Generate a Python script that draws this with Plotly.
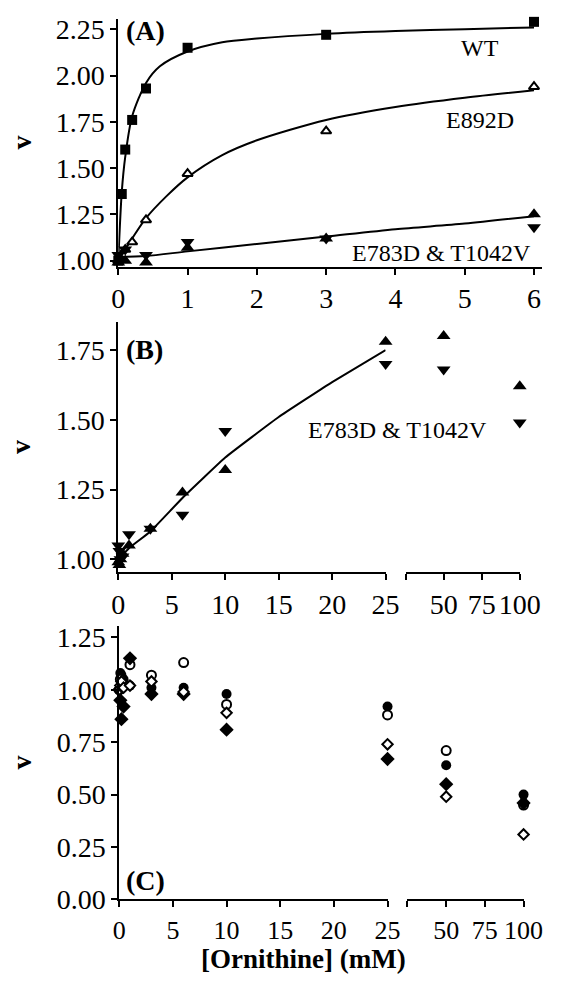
import plotly.graph_objects as go

W, H = 575, 984
FONT = "'Liberation Serif', 'Times New Roman', Times, serif"

# ---------------- Panel A data ----------------
wt_x = [0, 0.05, 0.1, 0.2, 0.4, 1, 3, 6]
wt_y = [1.00, 1.36, 1.60, 1.76, 1.93, 2.15, 2.22, 2.29]
wt_fit_x = [0, 0.05, 0.1, 0.2, 0.4, 0.6, 1, 1.5, 2, 3, 4, 5, 6]
wt_fit_y = [1.00, 1.37, 1.56, 1.78, 1.96, 2.05, 2.13, 2.18, 2.20, 2.225, 2.24, 2.25, 2.26]

e892d_x = [0, 0.1, 0.2, 0.4, 1, 3, 6]
e892d_y = [1.00, 1.06, 1.10, 1.22, 1.47, 1.70, 1.94]
e892d_fit_x = [0, 0.2, 0.4, 0.7, 1, 1.5, 2, 3, 4, 5, 6]
e892d_fit_y = [1.00, 1.12, 1.23, 1.35, 1.45, 1.57, 1.65, 1.76, 1.83, 1.88, 1.92]

mutA_x = [0, 0.1, 0.4, 1, 3, 6]
e783d_A_y = [0.99, 1.00, 0.99, 1.07, 1.12, 1.25]   # filled up-triangles
t1042v_A_y = [1.03, 1.06, 1.03, 1.10, 1.12, 1.18]  # filled down-triangles
mutA_fit_x = [0, 0.4, 1, 2, 3, 4, 5, 6]
mutA_fit_y = [1.02, 1.025, 1.05, 1.09, 1.13, 1.17, 1.20, 1.24]

# ---------------- Panel B data ----------------
b_x = [0, 0.1, 0.2, 0.4, 1, 3, 6, 10, 25, 50, 100]
e783d_B_y = [0.99, 0.98, 1.00, 1.02, 1.05, 1.11, 1.24, 1.32, 1.78, 1.80, 1.62]
t1042v_B_y = [1.05, 1.03, 1.00, 1.01, 1.09, 1.11, 1.16, 1.46, 1.70, 1.68, 1.49]
b_fit_x = [0, 1, 3, 6, 10, 15, 20, 25]
b_fit_y = [1.00, 1.04, 1.10, 1.22, 1.365, 1.51, 1.635, 1.75]

# ---------------- Panel C data ----------------
c_x = [0, 0.1, 0.2, 0.4, 1, 3, 6, 10, 25, 50, 100]
c_filled_circle = [1.00, 1.08, 1.07, 1.05, 1.02, 1.01, 1.01, 0.98, 0.92, 0.64, 0.50]
c_open_circle = [1.00, 1.05, 1.03, 1.02, 1.12, 1.07, 1.13, 0.93, 0.88, 0.71, 0.45]
c_filled_diamond = [1.00, 0.95, 0.86, 0.92, 1.15, 0.98, 0.98, 0.81, 0.67, 0.55, 0.46]
c_open_diamond = [1.00, 1.02, 1.04, 1.01, 1.02, 1.04, 0.99, 0.89, 0.74, 0.49, 0.31]

BREAK = 25


def px(x):
    return x / W


def py(y):
    return 1 - y / H


def split(xs, ys):
    lo = [(a, b) for a, b in zip(xs, ys) if a <= BREAK]
    hi = [(a, b) for a, b in zip(xs, ys) if a > BREAK]
    return ([a for a, _ in lo], [b for _, b in lo]), ([a for a, _ in hi], [b for _, b in hi])


fig = go.Figure()


def mk(x, y, xa, ya, symbol, size=10, open_=False, lw=2):
    fig.add_trace(go.Scatter(
        x=x, y=y, xaxis=xa, yaxis=ya, mode="markers", cliponaxis=False,
        marker=dict(symbol=symbol, size=size,
                    color="white" if open_ else "black",
                    line=dict(color="black", width=lw if open_ else 0)),
        showlegend=False, hoverinfo="skip"))


def ln(x, y, xa, ya, smooth=0.8):
    fig.add_trace(go.Scatter(
        x=x, y=y, xaxis=xa, yaxis=ya, mode="lines", cliponaxis=False,
        line=dict(color="black", width=2, shape="spline", smoothing=smooth),
        showlegend=False, hoverinfo="skip"))


# Panel A
ln(wt_fit_x, wt_fit_y, "x", "y")
ln(e892d_fit_x, e892d_fit_y, "x", "y")
ln(mutA_fit_x, mutA_fit_y, "x", "y")
mk(wt_x, wt_y, "x", "y", "square", 10)
mk(e892d_x, e892d_y, "x", "y", "triangle-up", 9, open_=True)
mk(mutA_x, e783d_A_y, "x", "y", "triangle-up", 12)
mk(mutA_x, t1042v_A_y, "x", "y", "triangle-down", 12)

# Panel B
ln(b_fit_x, b_fit_y, "x2", "y2", smooth=0.3)
for ys, sym in [(e783d_B_y, "triangle-up"), (t1042v_B_y, "triangle-down")]:
    (lx, ly), (hx, hy) = split(b_x, ys)
    mk(lx, ly, "x2", "y2", sym, 12)
    mk(hx, hy, "x3", "y2", sym, 12)

# Panel C
for ys, sym, op, sz in [(c_filled_circle, "circle", False, 10),
                        (c_open_circle, "circle", True, 9),
                        (c_filled_diamond, "diamond", False, 11),
                        (c_open_diamond, "diamond", True, 8)]:
    (lx, ly), (hx, hy) = split(c_x, ys)
    mk(lx, ly, "x4", "y3", sym, sz, open_=op)
    mk(hx, hy, "x5", "y3", sym, sz, open_=op)

tickfont = dict(family=FONT, size=28, color="black")
tickfont_c = dict(family=FONT, size=26, color="black")
common = dict(showgrid=False, zeroline=False, showline=True, linecolor="black", linewidth=2,
              ticks="outside", ticklen=6, tickwidth=2, tickcolor="black", tickfont=tickfont,
              fixedrange=True)


def ytext(vals):
    return ["%.2f" % v for v in vals]


yA = [1.00, 1.25, 1.50, 1.75, 2.00, 2.25]
yB = [1.00, 1.25, 1.50, 1.75]
yC = [0.00, 0.25, 0.50, 0.75, 1.00, 1.25]

fig.update_layout(
    width=W, height=H, margin=dict(l=0, r=0, t=0, b=0),
    paper_bgcolor="white", plot_bgcolor="white",
    font=dict(family=FONT, color="black"),
    xaxis=dict(common, domain=[px(117), px(562)], anchor="y", range=[0, 6.11],
               tickvals=[0, 1, 2, 3, 4, 5, 6]),
    yaxis=dict(common, domain=[py(268), py(15)], anchor="x", range=[0.968, 2.307],
               tickvals=yA, ticktext=ytext(yA)),
    xaxis2=dict(common, domain=[px(117), px(398)], anchor="y2", range=[0, 25],
                tickvals=[0, 5, 10, 15, 20, 25]),
    xaxis3=dict(common, domain=[px(419), px(539)], anchor="y2", range=[25, 100],
                tickvals=[25, 50, 75, 100], ticktext=["", "50", "75", "100"]),
    yaxis2=dict(common, domain=[py(580), py(325)], anchor="x2", range=[0.954, 1.849],
                tickvals=yB, ticktext=ytext(yB)),
    xaxis4=dict(common, domain=[px(118), px(400)], anchor="y3", range=[0, 25],
                tickvals=[0, 5, 10, 15, 20, 25], tickfont=tickfont_c),
    xaxis5=dict(common, domain=[px(421), px(543)], anchor="y3", range=[25, 100],
                tickvals=[25, 50, 75, 100], ticktext=["", "50", "75", "100"],
                tickfont=tickfont_c),
    yaxis3=dict(common, domain=[py(914), py(635)], anchor="x4", range=[0, 1.304],
                tickvals=yC, ticktext=ytext(yC)),
)


def ann(text, x, y, size, bold=False, xanchor="center", angle=0):
    fig.add_annotation(
        x=px(x), y=py(y), xref="paper", yref="paper", showarrow=False,
        text=("<b>%s</b>" % text) if bold else text, textangle=angle,
        xanchor=xanchor, yanchor="middle",
        font=dict(family=FONT, size=size, color="black"))


ann("(A)", 123, 27, 28, bold=True, xanchor="left")
ann("(B)", 123, 353, 28, bold=True, xanchor="left")
ann("(C)", 123, 895, 28, bold=True, xanchor="left")
ann("WT", 497, 45, 24)
ann("E892D", 497, 118, 24)
ann("E783D &amp; T1042V", 457, 254, 24)
ann("E783D &amp; T1042V", 410, 435, 24)
for yc in [141, 452, 774]:
    ann("v", 15, yc, 28, bold=True, angle=-90)
ann("[Ornithine] (mM)", 312, 975, 27, bold=True)

fig.write_html("out.html")
